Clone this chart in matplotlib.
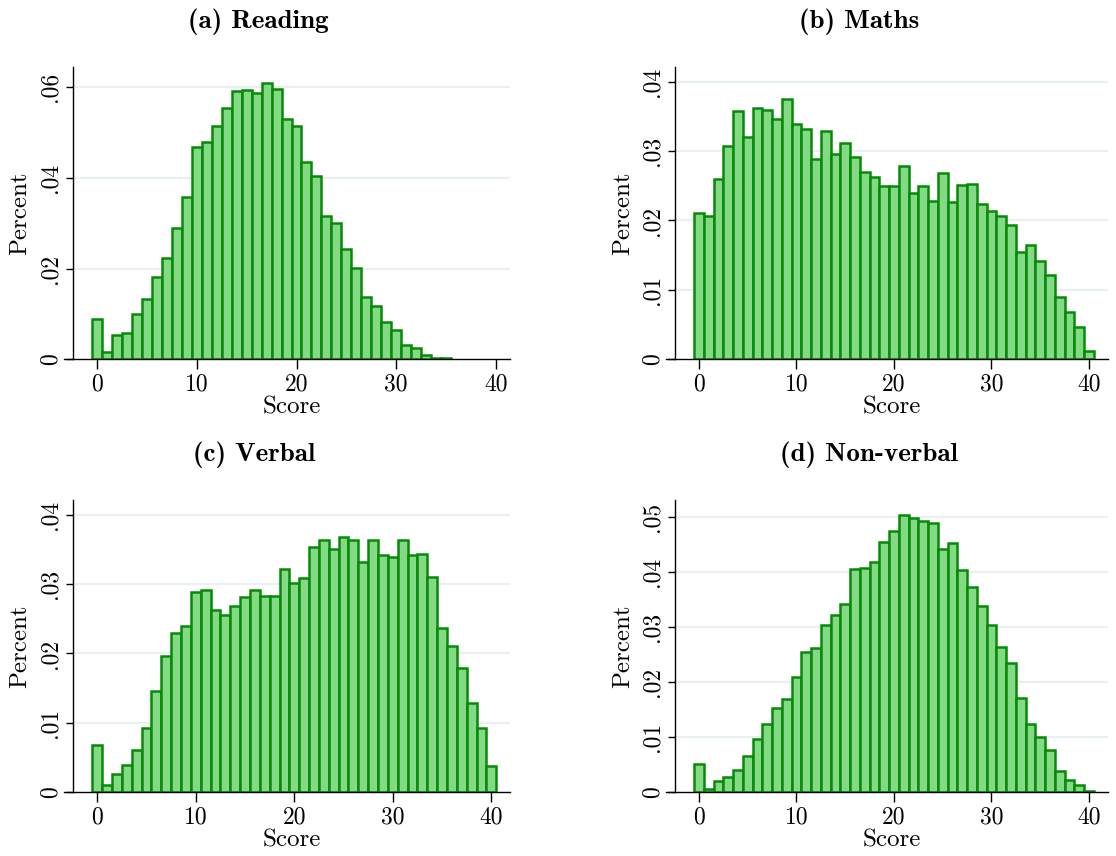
import matplotlib
matplotlib.use("Agg")
import matplotlib.pyplot as plt

plt.rcParams['font.family'] = ['cmr10', 'DejaVu Serif']
plt.rcParams['axes.unicode_minus'] = False
plt.rcParams['mathtext.fontset'] = 'cm'

# share of pupils at each score, 0..40 (reading has no one above 35)
reading = [.0090, .0017, .0054, .0057, .0101, .0134, .0182, .0223, .0290, .0359,
           .0468, .0480, .0515, .0554, .0592, .0594, .0587, .0610, .0597, .0531,
           .0515, .0436, .0405, .0317, .0301, .0243, .0202, .0138, .0118, .0082,
           .0065, .0032, .0025, .0009, .0002, .0002]

maths = [.0210, .0206, .0260, .0307, .0358, .0320, .0362, .0359, .0346, .0375,
         .0339, .0331, .0289, .0329, .0296, .0312, .0292, .0270, .0262, .0249,
         .0249, .0278, .0239, .0249, .0228, .0268, .0227, .0251, .0252, .0223,
         .0214, .0206, .0194, .0154, .0165, .0142, .0121, .0090, .0068, .0047,
         .0012]

verbal = [.0068, .0011, .0026, .0040, .0061, .0093, .0146, .0197, .0230, .0239,
          .0289, .0291, .0262, .0255, .0268, .0282, .0291, .0283, .0283, .0322,
          .0302, .0308, .0354, .0364, .0351, .0367, .0363, .0332, .0364, .0342,
          .0339, .0363, .0342, .0343, .0310, .0237, .0211, .0179, .0129, .0092,
          .0038]

nonverbal = [.0052, .0006, .0021, .0028, .0041, .0066, .0097, .0124, .0152, .0170,
             .0209, .0255, .0261, .0303, .0321, .0341, .0405, .0406, .0418, .0454,
             .0473, .0502, .0498, .0492, .0488, .0441, .0452, .0403, .0373, .0338,
             .0303, .0263, .0234, .0171, .0124, .0100, .0077, .0039, .0022, .0014,
             .0002]

titles = ["(a) Reading", "(b) Maths", "(c) Verbal", "(d) Non-verbal"]
series = [reading, maths, verbal, nonverbal]
yticks = [[0, .02, .04, .06],
          [0, .01, .02, .03, .04],
          [0, .01, .02, .03, .04],
          [0, .01, .02, .03, .04, .05]]
xticks = [0, 10, 20, 30, 40]

FILL = '#84da84'
EDGE = '#078a07'
GRID = '#e9f0f2'

W, H = 1116, 856
fig = plt.figure(figsize=(W / 100, H / 100), dpi=100)

# panel boxes in pixels: left, top, right, bottom; then x limits, y spine, y top, title centre
panels = [
    (64, 67, 510, 359.3, (-3.34, 41.43), -2.44, .0645, 258),
    (666, 67, 1108, 359.3, (-3.38, 41.95), -2.46, .0421, 859),
    (64, 500, 510, 792.3, (-3.38, 41.9), -2.47, .0421, 254),
    (666, 500, 1108, 792.3, (-3.38, 41.95), -2.46, .053, 869),
]


def fmt(v):
    if v == 0:
        return "0"
    return ("%.2f" % v)[1:]


for (l, t, r, b, xlim, yspine, ytop, tx), vals, ttl, yt in zip(panels, series, titles, yticks):
    ax = fig.add_axes([l / W, 1 - b / H, (r - l) / W, (b - t) / H])
    ax.set_xlim(*xlim)
    ax.set_ylim(0, ytop)

    # light horizontal guides, starting at the y axis
    for v in yt[1:]:
        ax.plot([yspine, xlim[1]], [v, v], color=GRID, lw=1.6, zorder=0)

    ax.bar(range(len(vals)), vals, width=1.0, color=FILL, edgecolor=EDGE,
           linewidth=1.8, zorder=2)

    for s in ['top', 'right']:
        ax.spines[s].set_visible(False)
    ax.spines['left'].set_position(('data', yspine))
    ax.spines['left'].set_linewidth(1.0)
    ax.spines['bottom'].set_linewidth(1.0)

    ax.set_xticks(xticks)
    ax.set_xticklabels([str(x) for x in xticks])
    ax.set_yticks(yt)
    ax.set_yticklabels([fmt(v) for v in yt])
    ax.tick_params(axis='x', length=7, width=1.0, labelsize=17, pad=3)
    ax.tick_params(axis='y', length=5, width=1.0, labelsize=17, pad=3, labelrotation=90)
    for lab in ax.get_yticklabels():
        lab.set_va('center')

    ax.set_xlabel("Score", fontsize=18)
    ax.set_ylabel("Percent", fontsize=18)
    ax.xaxis.set_label_coords(0.5 * (1 + (yspine - xlim[0]) / (xlim[1] - xlim[0])), -0.128)
    ax.yaxis.set_label_coords(-0.073, 0.5)

    fig.text(tx / W, 1 - (t - 45) / H, ttl, family='cmb10', fontsize=19.5,
             ha='center', va='center')

fig.savefig("out.png", dpi=100)
